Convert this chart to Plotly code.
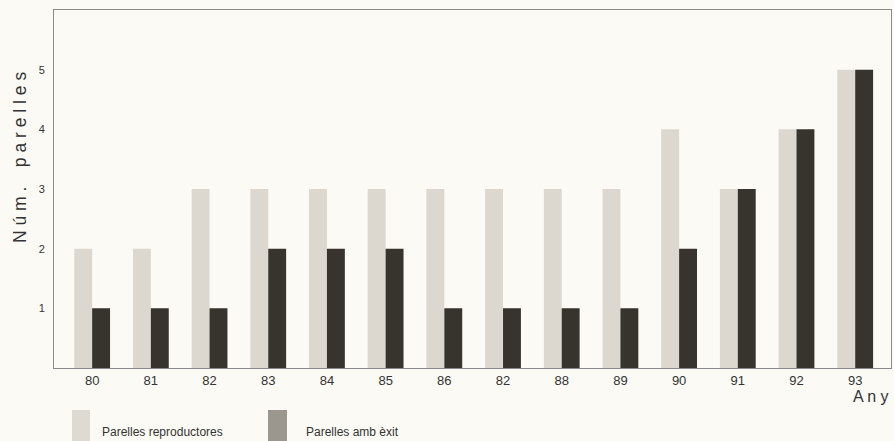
import plotly.graph_objects as go

years = ["80", "81", "82", "83", "84", "85", "86", "82", "88", "89", "90", "91", "92", "93"]
reproductores = [2, 2, 3, 3, 3, 3, 3, 3, 3, 3, 4, 3, 4, 5]
amb_exit = [1, 1, 1, 2, 2, 2, 1, 1, 1, 1, 2, 3, 4, 5]
y_ticks = [1, 2, 3, 4, 5]

pos = list(range(len(years)))
bg = "#fbfaf5"
font = "Liberation Sans, Arial, sans-serif"

fig = go.Figure()
fig.add_trace(go.Bar(x=pos, y=reproductores, name="Parelles reproductores",
                     marker=dict(color="#dcd8cf", line=dict(width=0))))
fig.add_trace(go.Bar(x=pos, y=amb_exit, name="Parelles amb èxit",
                     marker=dict(color="#37332d", line=dict(width=0))))

fig.update_layout(
    width=894, height=441,
    margin=dict(l=54, r=3, t=10, b=73),
    paper_bgcolor=bg, plot_bgcolor=bg,
    barmode="group", bargap=0.39, bargroupgap=0,
    showlegend=False,
    font=dict(family=font, color="#333333"),
    xaxis=dict(range=[-0.65, 13.61], tickmode="array", tickvals=pos, ticktext=years,
               showgrid=False, zeroline=False, showline=True, linecolor="#8a8a8a",
               linewidth=1, mirror=True, ticks="", tickfont=dict(size=13, color="#333333")),
    yaxis=dict(range=[0, 6], tickmode="array", tickvals=y_ticks,
               showgrid=False, zeroline=False, showline=True, linecolor="#8a8a8a",
               linewidth=1, mirror=True, ticks="", ticklabelstandoff=6,
               tickfont=dict(size=11, color="#333333")),
)

# axis titles
fig.add_annotation(text="N ú m .    p a r e l l e s", xref="paper", yref="paper",
                   x=0, y=(368-158)/358, xshift=-34, textangle=-90, showarrow=False,
                   font=dict(size=17.5, color="#333333", family=font), xanchor="center", yanchor="middle")
fig.add_annotation(text="A n y", xref="paper", yref="paper", x=1, y=0, xanchor="right",
                   yanchor="middle", yshift=-28, showarrow=False,
                   font=dict(size=16, color="#333333", family=font))

# legend
fig.add_shape(type="rect", xref="paper", yref="paper", x0=(72-54)/837, x1=(90-54)/837,
              y0=-(441-368)/358, y1=-(410-368)/358, fillcolor="#dedad2", line=dict(width=0))
fig.add_shape(type="rect", xref="paper", yref="paper", x0=(268-54)/837, x1=(287-54)/837,
              y0=-(441-368)/358, y1=-(410-368)/358, fillcolor="#9b978f", line=dict(width=0))
fig.add_annotation(text="Parelles reproductores", xref="paper", yref="paper",
                   x=(100-54)/837, y=-(432-368)/358, xanchor="left", yanchor="middle",
                   showarrow=False, font=dict(size=12, color="#333333", family=font))
fig.add_annotation(text="Parelles amb èxit", xref="paper", yref="paper",
                   x=(304-54)/837, y=-(432-368)/358, xanchor="left", yanchor="middle",
                   showarrow=False, font=dict(size=12, color="#333333", family=font))

fig.write_html("out.html", config={"displayModeBar": False},
               post_script="document.body.style.margin='0';document.body.style.background='#fbfaf5';")
